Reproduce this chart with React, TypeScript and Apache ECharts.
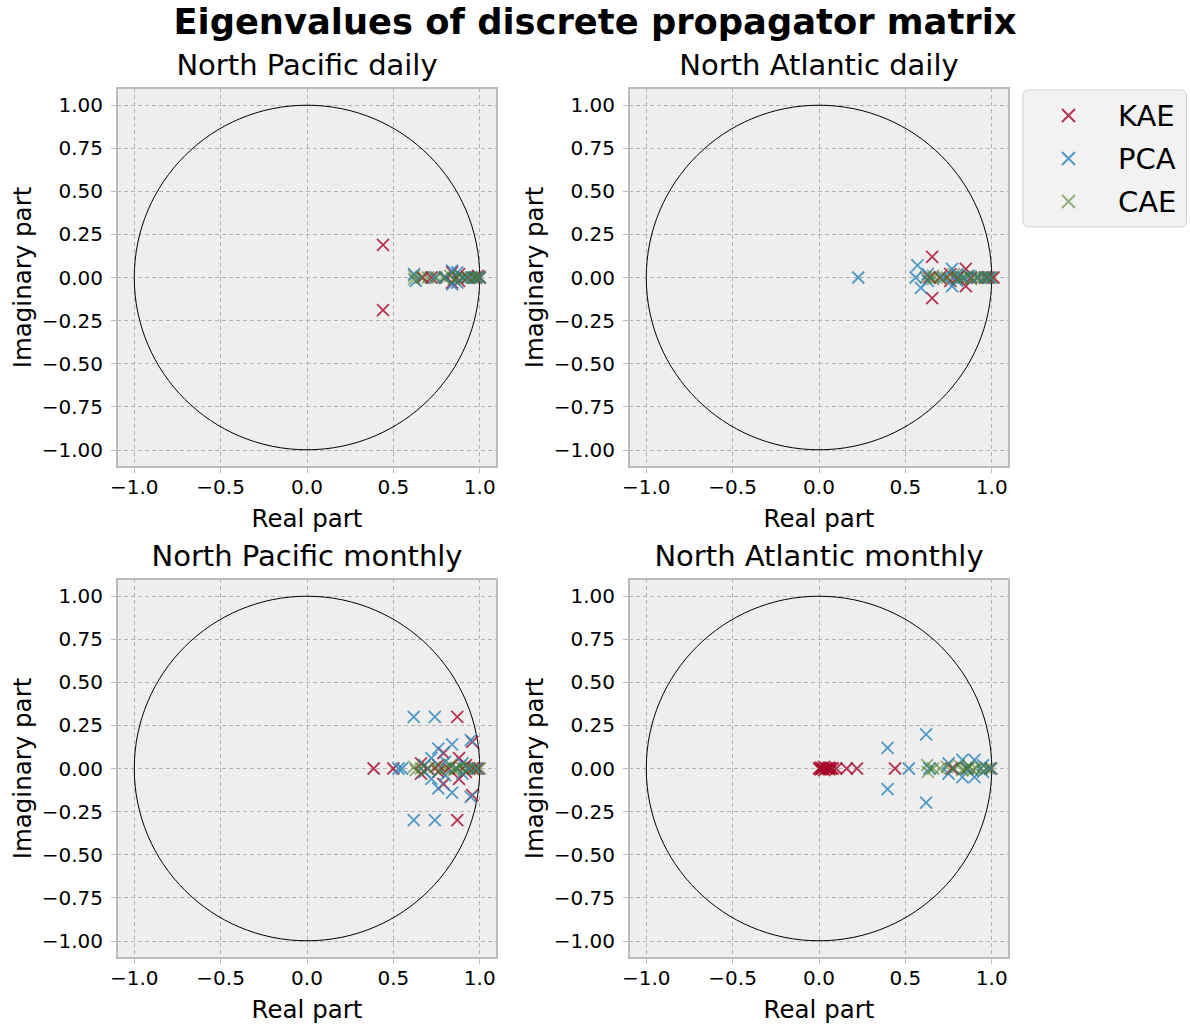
import React, { useEffect, useRef } from 'react';
import * as echarts from 'echarts';

const mainTitle = 'Eigenvalues of discrete propagator matrix';
const panelTitles = ['North Pacific daily', 'North Atlantic daily', 'North Pacific monthly', 'North Atlantic monthly'];
const seriesNames = ['KAE', 'PCA', 'CAE'];
const seriesColors = ['#A60628', '#348ABD', '#467821'];
const seriesOpacity = [0.8, 0.85, 0.55];
const xTicks = [-1, -0.5, 0, 0.5, 1];
const yTicks = [-1, -0.75, -0.5, -0.25, 0, 0.25, 0.5, 0.75, 1];
const unitCircle = [[0, 0, 1]]; // centre (re, im) and radius

// [real, imaginary] eigenvalues
const npDailyKAE = [[0.44, 0.19], [0.44, -0.19], [0.67, 0], [0.72, 0], [0.8, 0], [0.84, 0.03], [0.84, -0.03], [0.88, 0.02], [0.88, -0.02], [0.93, 0], [0.97, 0], [0.99, 0.01], [1.0, 0]];
const npDailyPCA = [[0.62, 0.02], [0.63, -0.02], [0.74, 0], [0.8, 0], [0.84, 0.04], [0.84, -0.04], [0.87, 0.03], [0.87, -0.03], [0.91, 0], [0.95, 0], [0.98, 0], [1.0, 0]];
const npDailyCAE = [[0.62, 0.01], [0.62, -0.01], [0.66, 0], [0.7, 0], [0.75, 0], [0.79, 0], [0.83, 0.01], [0.85, -0.01], [0.87, 0], [0.9, 0], [0.93, 0], [0.96, 0], [0.98, 0], [1.0, 0]];

const naDailyKAE = [[0.655, 0.12], [0.655, -0.12], [0.64, 0], [0.7, 0], [0.76, 0.02], [0.76, -0.02], [0.8, 0], [0.85, 0.05], [0.85, -0.05], [0.88, 0], [0.92, 0], [0.96, 0], [0.98, 0], [1.01, 0]];
const naDailyPCA = [[0.227, 0], [0.57, 0.07], [0.56, 0], [0.59, -0.06], [0.63, 0.02], [0.63, -0.02], [0.72, 0], [0.77, 0.05], [0.77, -0.05], [0.8, 0.02], [0.8, -0.02], [0.84, 0], [0.87, 0.01], [0.92, 0], [0.96, 0], [0.99, 0]];
const naDailyCAE = [[0.62, 0], [0.66, 0.01], [0.66, -0.01], [0.7, 0], [0.74, 0], [0.78, 0.02], [0.8, -0.01], [0.83, 0], [0.86, 0.01], [0.88, -0.01], [0.91, 0], [0.94, 0], [0.97, 0], [1.0, 0]];

const npMonthlyKAE = [[0.386, 0], [0.5, 0], [0.87, 0.3], [0.87, -0.3], [0.957, 0.155], [0.957, -0.155], [0.79, 0.09], [0.79, -0.09], [0.88, 0.06], [0.88, -0.06], [0.66, 0.03], [0.66, -0.03], [0.7, 0], [0.76, 0.02], [0.76, -0.02], [0.82, 0], [0.92, 0.02], [0.92, -0.02], [0.96, 0], [0.99, 0]];
const npMonthlyPCA = [[0.53, 0], [0.55, 0], [0.618, 0.3], [0.618, -0.3], [0.74, 0.3], [0.74, -0.3], [0.76, 0.115], [0.76, -0.115], [0.84, 0.14], [0.84, -0.14], [0.948, 0.165], [0.948, -0.165], [0.68, 0.02], [0.68, -0.02], [0.72, 0.06], [0.72, -0.06], [0.8, 0.04], [0.8, -0.04], [0.86, 0], [0.9, 0.03], [0.9, -0.03], [0.94, 0], [0.98, 0]];
const npMonthlyCAE = [[0.62, 0.01], [0.63, -0.01], [0.66, 0], [0.7, 0], [0.74, 0.01], [0.77, -0.01], [0.8, 0], [0.83, 0.02], [0.85, -0.01], [0.87, 0], [0.89, 0.01], [0.91, 0], [0.94, 0], [0.97, 0], [1.0, 0]];

const naMonthlyKAE = [[0.0, 0], [0.01, 0.005], [0.01, -0.005], [0.02, 0], [0.03, 0.01], [0.03, -0.01], [0.04, 0], [0.05, 0], [0.06, 0.005], [0.06, -0.005], [0.07, 0], [0.08, 0], [0.1, 0], [0.16, 0], [0.22, 0], [0.44, 0], [0.77, 0], [0.86, 0], [0.99, 0]];
const naMonthlyPCA = [[0.397, 0.12], [0.397, -0.12], [0.52, 0], [0.62, 0.198], [0.62, -0.198], [0.64, 0], [0.75, 0.03], [0.75, -0.03], [0.83, 0.05], [0.83, -0.05], [0.86, 0], [0.9, 0.05], [0.9, -0.05], [0.95, 0.02], [0.95, -0.02], [0.99, 0]];
const naMonthlyCAE = [[0.626, 0.02], [0.63, -0.02], [0.66, 0], [0.7, 0], [0.74, 0.01], [0.78, 0], [0.81, 0.02], [0.83, -0.01], [0.85, 0], [0.87, 0.01], [0.89, -0.01], [0.91, 0], [0.94, 0], [0.97, 0], [1.0, 0]];

const panelData = [
  [npDailyKAE, npDailyPCA, npDailyCAE],
  [naDailyKAE, naDailyPCA, naDailyCAE],
  [npMonthlyKAE, npMonthlyPCA, npMonthlyCAE],
  [naMonthlyKAE, naMonthlyPCA, naMonthlyCAE],
];

const FONT = 'DejaVu Sans';
const X_MARK = 'path://M0,0L10,10M10,0L0,10';

const fmt = (v: number, d: number) => {
  const s = Math.abs(v).toFixed(d);
  return v < 0 ? '\u2212' + s : s;
};

export default function App() {
  const ref = useRef<HTMLDivElement>(null);
  useEffect(() => {
    if (!ref.current) return;
    const chart = echarts.init(ref.current, null, { renderer: 'svg' });
    const W = 380, H = 379;
    const lefts = [117, 629, 117, 629];
    const tops = [88, 88, 579, 579];

    const grid = lefts.map((l, i) => ({
      left: l, top: tops[i], width: W, height: H,
      show: true, backgroundColor: '#eeeeee', borderColor: '#bcbcbc', borderWidth: 2,
    }));

    const xAxis = lefts.map((_, i) => ({
      gridIndex: i, type: 'value', min: -1.1, max: 1.1,
      name: 'Real part', nameLocation: 'middle', nameGap: 39,
      nameTextStyle: { fontSize: 24.5, color: '#000', fontFamily: FONT },
      axisLine: { show: true, onZero: false, lineStyle: { color: '#bcbcbc', width: 2 } },
      axisTick: { show: true, customValues: xTicks, length: 6, lineStyle: { color: '#bcbcbc', width: 1 } },
      axisLabel: { customValues: xTicks, margin: 10, fontSize: 20, color: '#000', fontFamily: FONT, formatter: (v: number) => fmt(v, 1) },
      splitLine: { show: true, lineStyle: { type: [4, 3], color: '#b2b2b2', width: 1 } },
    }));

    const yAxis = lefts.map((_, i) => ({
      gridIndex: i, type: 'value', min: -1.1, max: 1.1,
      name: 'Imaginary part', nameLocation: 'middle', nameGap: 82, nameRotate: 90,
      nameTextStyle: { fontSize: 24.5, color: '#000', fontFamily: FONT },
      axisLine: { show: true, onZero: false, lineStyle: { color: '#bcbcbc', width: 2 } },
      axisTick: { show: true, customValues: yTicks, length: 6, lineStyle: { color: '#bcbcbc', width: 1 } },
      axisLabel: { customValues: yTicks, margin: 14, fontSize: 20, color: '#000', fontFamily: FONT, formatter: (v: number) => fmt(v, 2) },
      splitLine: { show: true, lineStyle: { type: [4, 3], color: '#b2b2b2', width: 1 } },
    }));

    const series: any[] = [];
    panelData.forEach((sets, i) => {
      series.push({
        type: 'custom', xAxisIndex: i, yAxisIndex: i, silent: true, z: 1,
        data: unitCircle,
        renderItem: (_p: any, api: any) => {
          const c = api.coord([api.value(0), api.value(1)]);
          const r = api.size([api.value(2), api.value(2)]);
          return {
            type: 'ellipse',
            shape: { cx: c[0], cy: c[1], rx: r[0], ry: r[1] },
            style: { fill: 'none', stroke: '#000', lineWidth: 1 },
          };
        },
      });
      sets.forEach((d, j) => {
        series.push({
          type: 'scatter', name: seriesNames[j], xAxisIndex: i, yAxisIndex: i,
          data: d, symbol: X_MARK, symbolSize: 12, z: 2 + j,
          itemStyle: { color: 'rgba(0,0,0,0)', borderColor: seriesColors[j], borderWidth: 1.8, opacity: seriesOpacity[j] },
        });
      });
    });

    const centers = [307, 819, 307, 819];
    const titleY = [50, 50, 541, 541];
    const graphic = panelTitles.map((t, i) => ({
      type: 'text', x: centers[i], y: titleY[i],
      style: { text: t, fontSize: 29, fontFamily: FONT, fill: '#000', textAlign: 'center', textVerticalAlign: 'top' },
    }));

    chart.setOption({
      animation: false,
      backgroundColor: '#ffffff',
      title: {
        text: mainTitle, left: 'center', top: -1,
        textStyle: { fontSize: 35.3, fontWeight: 'bold', fontFamily: FONT, color: '#000' },
      },
      legend: {
        data: seriesNames, orient: 'vertical', left: 1023, top: 90,
        itemWidth: 13, itemHeight: 13, itemGap: 14,
        textStyle: { fontSize: 29, fontFamily: FONT, color: '#000', padding: [0, 0, 0, 38] },
        backgroundColor: '#f2f2f2', borderColor: '#d0d0d0', borderWidth: 1, borderRadius: 5,
        padding: [11, 10, 11, 38],
      },
      grid, xAxis, yAxis, series, graphic,
    });
    return () => chart.dispose();
  }, []);
  return <div ref={ref} style={{ position: 'fixed', left: 0, top: 0, width: 1190, height: 1029 }} />;
}
